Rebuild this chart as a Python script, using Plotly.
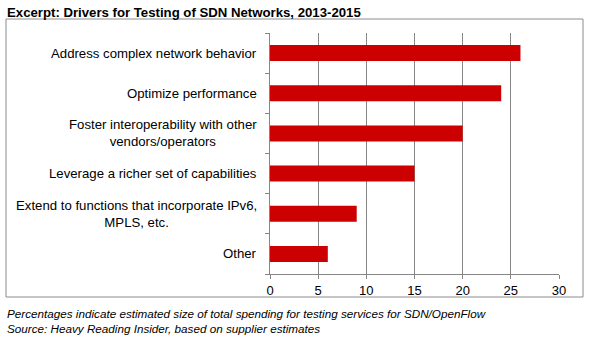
import plotly.graph_objects as go

categories = [
    "Address complex network behavior",
    "Optimize performance",
    "Foster interoperability with other<br>vendors/operators",
    "Leverage a richer set of capabilities",
    "Extend to functions that incorporate IPv6,<br>MPLS, etc.",
    "Other",
]
values = [26, 24, 20, 15, 9, 6]
x_ticks = [0, 5, 10, 15, 20, 25, 30]
title_text = "Excerpt: Drivers for Testing of SDN Networks, 2013-2015"
footer_lines = [
    "Percentages indicate estimated size of total spending for testing services for SDN/OpenFlow",
    "Source: Heavy Reading Insider, based on supplier estimates",
]

W, H = 595, 341
L, R, T, B = 270, 36, 33, 67
pw, ph = W - L - R, H - T - B

def px2x(px):
    return (px - L) / pw

def py2y(py):
    return 1 - (py - T) / ph

FONT = "Liberation Sans, Arial, sans-serif"

fig = go.Figure()
fig.add_trace(go.Bar(
    y=categories, x=values, orientation="h",
    marker=dict(color="#CC0000", line=dict(width=0)),
    width=0.4,
    hoverinfo="x+y",
))

annotations = []
for c in categories:
    annotations.append(dict(
        x=0, xref="paper", xshift=-11, y=c, yref="y",
        text=c, showarrow=False, xanchor="right", yanchor="middle",
        align="center", font=dict(family=FONT, size=13.2, color="#000000"),
    ))
annotations.append(dict(
    x=px2x(5), xref="paper", y=py2y(12), yref="paper", text="<b>" + title_text + "</b>",
    showarrow=False, xanchor="left", yanchor="middle",
    font=dict(family=FONT, size=13.2, color="#000000"),
))
for i, line in enumerate(footer_lines):
    annotations.append(dict(
        x=px2x(5), xref="paper", y=py2y(313 + 15 * i), yref="paper",
        text="<i>" + line + "</i>", showarrow=False, xanchor="left", yanchor="middle",
        font=dict(family=FONT, size=11.7, color="#000000"),
    ))

fig.update_layout(
    width=W, height=H,
    margin=dict(l=L, r=R, t=T, b=B, pad=0),
    paper_bgcolor="white", plot_bgcolor="white",
    showlegend=False,
    font=dict(family=FONT, size=12, color="#000000"),
    xaxis=dict(
        range=[0, 30], tickvals=x_ticks, ticktext=[str(v) for v in x_ticks],
        showgrid=True, gridcolor="#868686", gridwidth=1,
        zeroline=False, showline=True, linecolor="#868686", linewidth=1,
        ticks="outside", ticklen=4, tickcolor="#868686",
        tickfont=dict(family=FONT, size=13, color="#000000"),
        fixedrange=True,
    ),
    yaxis=dict(
        categoryorder="array", categoryarray=categories[::-1],
        showticklabels=False,
        showline=True, linecolor="#868686", linewidth=1,
        ticks="outside", ticklen=4, tickcolor="#868686", tickson="boundaries",
        showgrid=False, zeroline=False, fixedrange=True,
    ),
    shapes=[dict(
        type="rect", xref="paper", yref="paper",
        x0=px2x(6), x1=px2x(583), y0=py2y(19), y1=py2y(297),
        line=dict(color="#8C8C8C", width=1), fillcolor="rgba(0,0,0,0)", layer="below",
    )],
    annotations=annotations,
)

fig.write_html("out.html")
